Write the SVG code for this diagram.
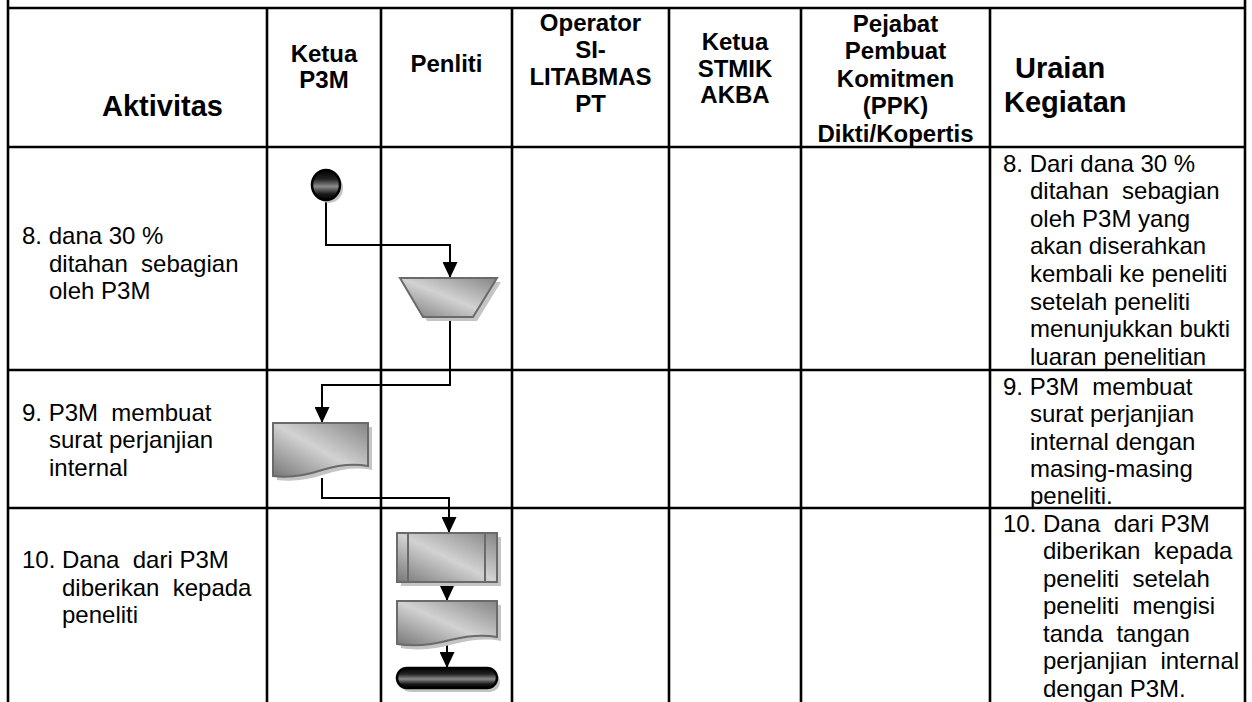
<svg xmlns="http://www.w3.org/2000/svg" width="1252" height="702" viewBox="0 0 1252 702">
<defs>
<style>
.grid{stroke:#000;stroke-width:2.6;fill:none}
.h{font-family:"Liberation Sans",Arial,sans-serif;font-weight:bold;font-size:24px;fill:#000;text-anchor:middle}
.big{font-family:"Liberation Sans",Arial,sans-serif;font-weight:bold;font-size:29px;fill:#000}
.t{font-family:"Liberation Sans",Arial,sans-serif;font-size:24px;fill:#000;white-space:pre}
.conn{stroke:#000;stroke-width:2;fill:none}
.shape{stroke:#6a6a6a;stroke-width:2;fill:url(#gray)}
.shadow{fill:#c4c4c4;stroke:none}
.black{stroke:#000;stroke-width:2.5;fill:url(#metal)}
</style>
<linearGradient id="gray" x1="0" y1="1" x2="1" y2="0">
<stop offset="0" stop-color="#777"/>
<stop offset="0.5" stop-color="#d2d2d2"/>
<stop offset="1" stop-color="#858585"/>
</linearGradient>
<linearGradient id="metal" x1="0" y1="0" x2="0" y2="1">
<stop offset="0" stop-color="#000"/>
<stop offset="0.3" stop-color="#222"/>
<stop offset="0.55" stop-color="#8a8a8a"/>
<stop offset="0.8" stop-color="#1a1a1a"/>
<stop offset="1" stop-color="#000"/>
</linearGradient>
<marker id="arr" viewBox="0 0 16 15" refX="16" refY="7.5" markerWidth="16" markerHeight="15" markerUnits="userSpaceOnUse" orient="auto">
<path d="M0,0 L16,7.5 L0,15 Z" fill="#000"/>
</marker>
</defs>
<rect width="1252" height="702" fill="#fff"/>

<g id="table">
<line class="grid" x1="8" y1="0" x2="8" y2="702"/>
<line class="grid" x1="1245" y1="0" x2="1245" y2="702"/>
<line class="grid" x1="8" y1="8" x2="1245" y2="8"/>
<line class="grid" x1="8" y1="147" x2="1245" y2="147"/>
<line class="grid" x1="8" y1="370" x2="1245" y2="370"/>
<line class="grid" x1="8" y1="508" x2="1245" y2="508"/>
<line class="grid" x1="267" y1="8" x2="267" y2="702"/>
<line class="grid" x1="381" y1="8" x2="381" y2="702"/>
<line class="grid" x1="512" y1="8" x2="512" y2="702"/>
<line class="grid" x1="669" y1="8" x2="669" y2="702"/>
<line class="grid" x1="801" y1="8" x2="801" y2="702"/>
<line class="grid" x1="990" y1="8" x2="990" y2="702"/>
</g>

<g id="header">
<text class="big" x="102" y="116">Aktivitas</text>
<text class="h" x="324" y="62">Ketua</text>
<text class="h" x="324" y="88">P3M</text>
<text class="h" x="446.5" y="72">Penliti</text>
<text class="h" x="590.5" y="31">Operator</text>
<text class="h" x="590.5" y="58">SI-</text>
<text class="h" x="590.5" y="85">LITABMAS</text>
<text class="h" x="590.5" y="112">PT</text>
<text class="h" x="735" y="50">Ketua</text>
<text class="h" x="735" y="77">STMIK</text>
<text class="h" x="735" y="103">AKBA</text>
<text class="h" x="895.5" y="31.5">Pejabat</text>
<text class="h" x="895.5" y="59.1">Pembuat</text>
<text class="h" x="895.5" y="86.7">Komitmen</text>
<text class="h" x="895.5" y="114.3">(PPK)</text>
<text class="h" x="895.5" y="141.9">Dikti/Kopertis</text>
<text class="big" x="1015" y="78">Uraian</text>
<text class="big" x="1004" y="112">Kegiatan</text>
</g>

<g id="aktivitas">
<text class="t" x="22" y="244">8. dana 30 %</text>
<text class="t" x="49" y="271.6">ditahan  sebagian</text>
<text class="t" x="49" y="299.2">oleh P3M</text>
<text class="t" x="22" y="420.6">9. P3M  membuat</text>
<text class="t" x="49" y="448.2">surat perjanjian</text>
<text class="t" x="49" y="475.8">internal</text>
<text class="t" x="22" y="568">10. Dana  dari P3M</text>
<text class="t" x="62" y="595.6">diberikan  kepada</text>
<text class="t" x="62" y="623.2">peneliti</text>
</g>

<g id="uraian">
<text class="t" x="1003" y="171.5">8. Dari dana 30 %</text>
<text class="t" x="1030" y="199.1">ditahan  sebagian</text>
<text class="t" x="1030" y="226.7">oleh P3M yang</text>
<text class="t" x="1030" y="254.3">akan diserahkan</text>
<text class="t" x="1030" y="281.9">kembali ke peneliti</text>
<text class="t" x="1030" y="309.5">setelah peneliti</text>
<text class="t" x="1030" y="337.1">menunjukkan bukti</text>
<text class="t" x="1030" y="364.7">luaran penelitian</text>
<text class="t" x="1003" y="395">9. P3M  membuat</text>
<text class="t" x="1030" y="422.3">surat perjanjian</text>
<text class="t" x="1030" y="449.6">internal dengan</text>
<text class="t" x="1030" y="476.9">masing-masing</text>
<text class="t" x="1030" y="504">peneliti.</text>
<text class="t" x="1003" y="531.5">10. Dana  dari P3M</text>
<text class="t" x="1043" y="559">diberikan  kepada</text>
<text class="t" x="1043" y="586.5">peneliti  setelah</text>
<text class="t" x="1043" y="614">peneliti  mengisi</text>
<text class="t" x="1043" y="641.5">tanda  tangan</text>
<text class="t" x="1043" y="669">perjanjian  internal</text>
<text class="t" x="1043" y="696.5">dengan P3M.</text>
</g>

<g id="connectors">
<polyline class="conn" points="326,200 326,245 450,245 450,278" marker-end="url(#arr)"/>
<polyline class="conn" points="450,317 450,385 322,385 322,423" marker-end="url(#arr)"/>
<polyline class="conn" points="322,478 322,498 449,498 449,533" marker-end="url(#arr)"/>
<line class="conn" x1="447" y1="582" x2="447" y2="601" marker-end="url(#arr)"/>
<line class="conn" x1="447" y1="645" x2="447" y2="668" marker-end="url(#arr)"/>
</g>

<g id="start">
<ellipse class="shadow" cx="329" cy="188" rx="14" ry="15"/>
<ellipse class="black" cx="326" cy="185" rx="14" ry="15"/>
</g>

<g id="manual-op">
<polygon class="shadow" points="404,282 501,282 477,321 427,321"/>
<polygon class="shape" points="400,278 497,278 473,317 423,317"/>
</g>

<g id="doc1">
<path class="shadow" d="M277,427 H372 V470 C356,467 342,469 326,474 C308,480 292,482 277,480 Z"/>
<path class="shape" d="M273,423 H368 V466 C352,463 338,465 322,470 C304,476 288,478 273,476 Z"/>
</g>

<g id="process">
<rect class="shadow" x="401" y="537" width="100" height="49"/>
<rect class="shape" x="397" y="533" width="100" height="49"/>
<line x1="408" y1="533" x2="408" y2="582" stroke="#6a6a6a" stroke-width="2"/>
<line x1="485" y1="533" x2="485" y2="582" stroke="#6a6a6a" stroke-width="2"/>
</g>

<g id="doc2">
<path class="shadow" d="M401,605 H501 V641 C485,638 470,640 454,644 C436,649 419,651 401,648 Z"/>
<path class="shape" d="M397,601 H497 V637 C481,634 466,636 450,640 C432,645 415,647 397,644 Z"/>
</g>

<g id="end">
<rect class="shadow" x="400" y="672" width="100" height="20" rx="10"/>
<rect class="black" x="397" y="668" width="100" height="20" rx="10"/>
</g>
</svg>
